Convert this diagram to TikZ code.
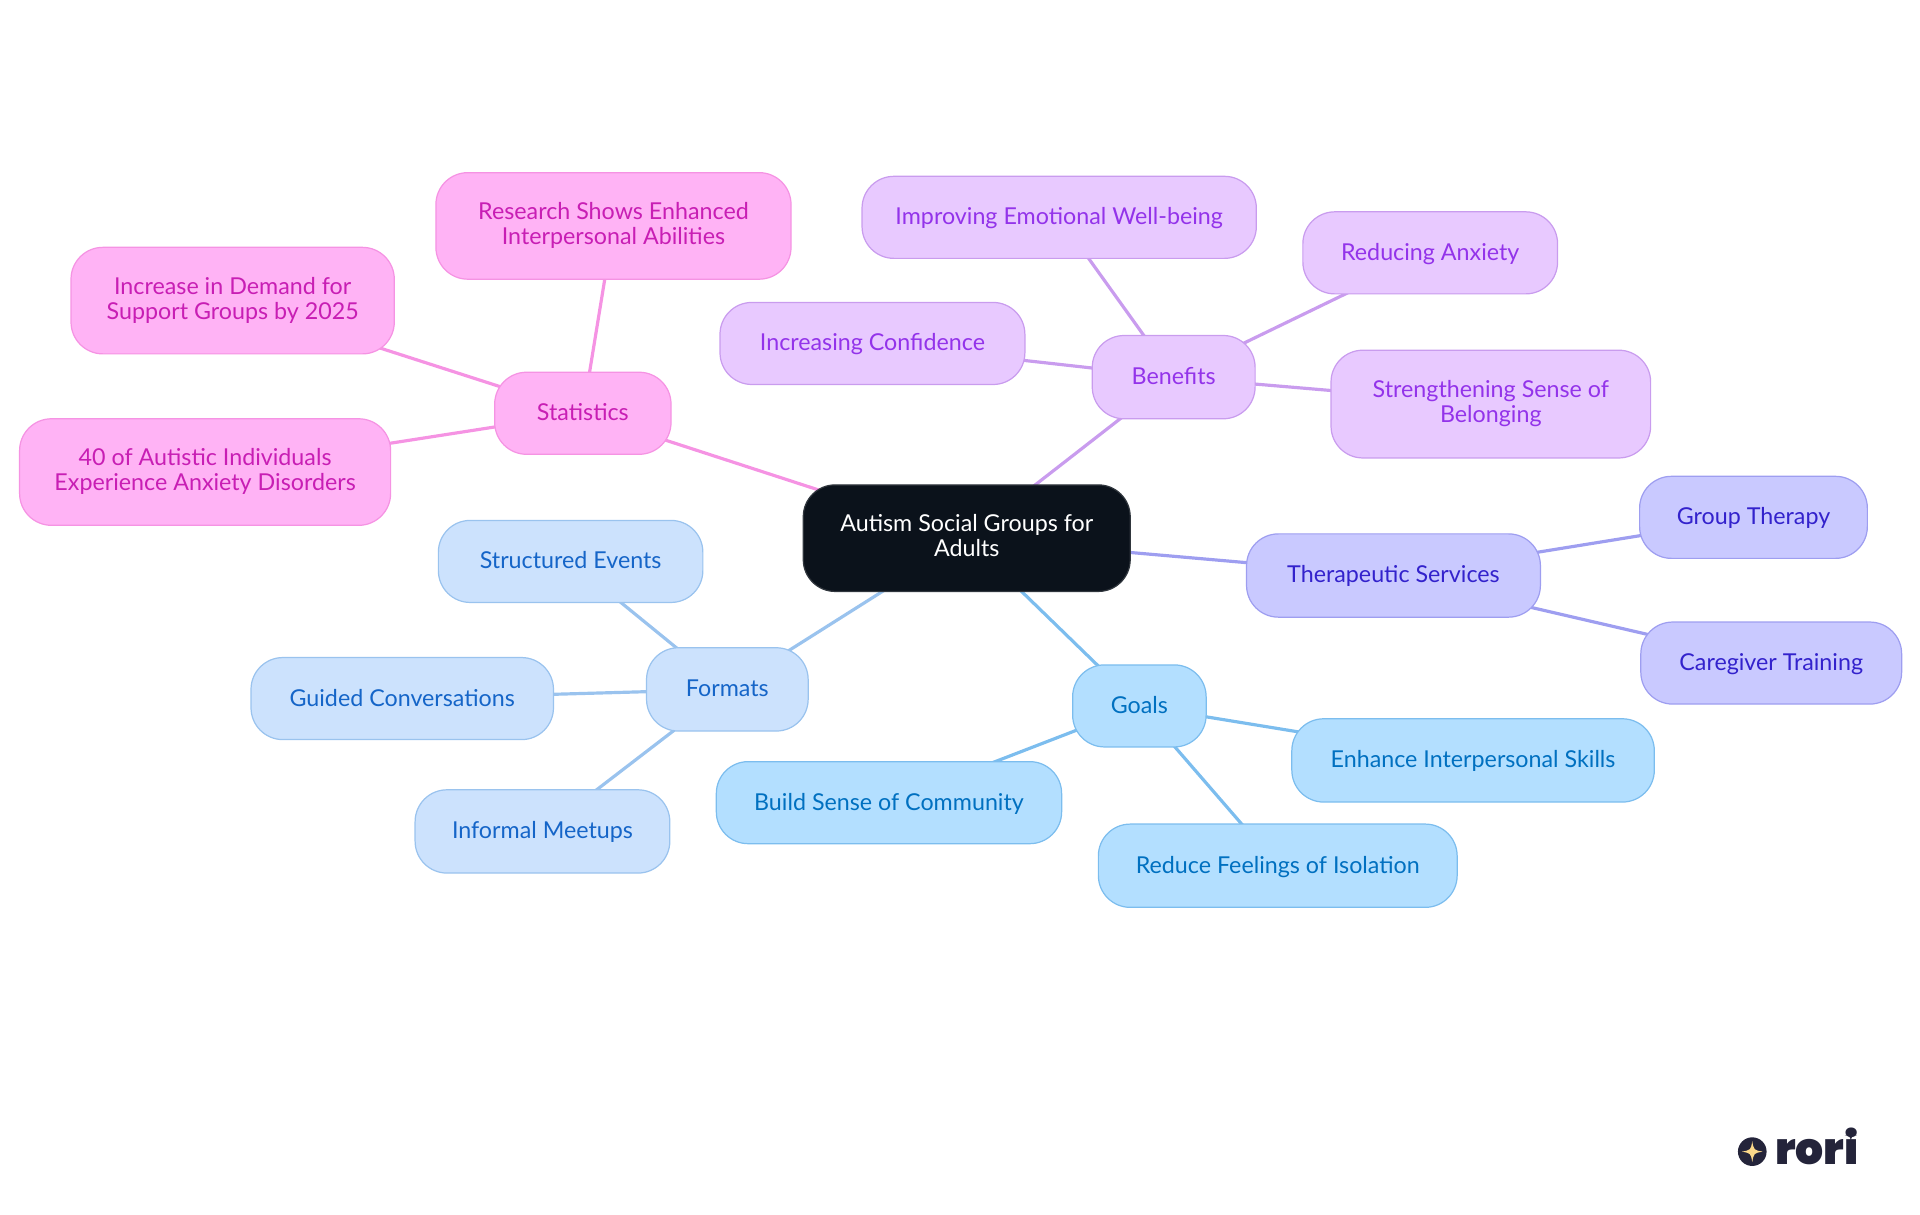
\documentclass[tikz,border=0pt]{standalone}
\usepackage{fontspec}
\setmainfont{Lato}
\newfontfamily\logofont{Poppins}[UprightFont=* Black]
\usetikzlibrary{backgrounds}
\definecolor{rootfill}{HTML}{0B121B}
\definecolor{statsfill}{HTML}{FFB3F5}
\definecolor{statsline}{HTML}{F593E3}
\definecolor{statstext}{HTML}{C81EB4}
\definecolor{benefill}{HTML}{E8C9FF}
\definecolor{beneline}{HTML}{C99CEE}
\definecolor{benetext}{HTML}{9333EA}
\definecolor{therfill}{HTML}{C9C9FF}
\definecolor{therline}{HTML}{9E9EF0}
\definecolor{thertext}{HTML}{3322CC}
\definecolor{goalfill}{HTML}{B3DFFF}
\definecolor{goalline}{HTML}{7CBDEE}
\definecolor{goaltext}{HTML}{0070C0}
\definecolor{formfill}{HTML}{CCE2FD}
\definecolor{formline}{HTML}{9AC3EE}
\definecolor{formtext}{HTML}{1565C8}
\definecolor{logodark}{HTML}{24243A}
\definecolor{logostar}{HTML}{FBD88A}
\newcommand{\boxstrut}{\rule[-4.15pt]{0pt}{20.5pt}}
\tikzset{
	box/.style={rectangle,rounded corners=26pt,line width=1pt,align=center,inner sep=0pt,
		font=\fontsize{19}{20.5}\selectfont,
		execute at begin node=\boxstrut,execute at end node=\boxstrut},
	size/.style 2 args={minimum width=#1pt,minimum height=#2pt},
	rootbox/.style={box,fill=rootfill,draw=rootfill!85!white,text=white},
	statsbox/.style={box,fill=statsfill,draw=statsline,text=statstext},
	benebox/.style={box,fill=benefill,draw=beneline,text=benetext},
	therbox/.style={box,fill=therfill,draw=therline,text=thertext},
	goalbox/.style={box,fill=goalfill,draw=goalline,text=goaltext},
	formbox/.style={box,fill=formfill,draw=formline,text=formtext},
	edge/.style={line width=2.6pt}
}
\newcommand{\logospark}[4]{\fill[#1] (#2,#3-#4) .. controls (#2+0.15*#4,#3-0.15*#4) .. (#2+#4,#3) .. controls (#2+0.15*#4,#3+0.15*#4) .. (#2,#3+#4) .. controls (#2-0.15*#4,#3+0.15*#4) .. (#2-#4,#3) .. controls (#2-0.15*#4,#3-0.15*#4) .. cycle;}
\begin{document}
\begin{tikzpicture}[x=1pt,y=-1pt]
	\useasboundingbox (0,0) rectangle (1568,992.25);
	\node[rootbox,size={267}{87}] (root) at (789.5,439.5) {Autism Social Groups for\\Adults};
	% statistics
	\node[statsbox,size={144}{67}] (stats) at (476,337.5) {Statistics};
	\node[statsbox,size={290}{87}] (research) at (501,184.5) {Research Shows Enhanced\\Interpersonal Abilities};
	\node[statsbox,size={264}{87}] (demand) at (190,245.5) {Increase in Demand for\\Support Groups by 2025};
	\node[statsbox,size={303}{87}] (anxiety) at (167.5,385.5) {40 of Autistic Individuals\\Experience Anxiety Disorders};
	% benefits
	\node[benebox,size={133}{68}] (benefits) at (958.5,308) {Benefits};
	\node[benebox,size={322}{67}] (wellbeing) at (865,177.5) {Improving Emotional Well-being};
	\node[benebox,size={208}{67}] (reducing) at (1168,206.5) {Reducing Anxiety};
	\node[benebox,size={249}{67}] (confidence) at (712.5,280.5) {Increasing Confidence};
	\node[benebox,size={261}{88}] (belonging) at (1217.5,330) {Strengthening Sense of\\Belonging};
	% therapeutic services
	\node[therbox,size={240}{68}] (services) at (1138,470) {Therapeutic Services};
	\node[therbox,size={186}{67}] (therapy) at (1432,422.5) {Group Therapy};
	\node[therbox,size={213}{67}] (caregiver) at (1446.5,541.5) {Caregiver Training};
	% goals
	\node[goalbox,size={109}{67}] (goals) at (930.5,576.5) {Goals};
	\node[goalbox,size={296}{68}] (skills) at (1203,621) {Enhance Interpersonal Skills};
	\node[goalbox,size={293}{68}] (isolation) at (1043.5,707) {Reduce Feelings of Isolation};
	\node[goalbox,size={282}{67}] (community) at (726,655.5) {Build Sense of Community};
	% formats
	\node[formbox,size={132}{68}] (formats) at (594,563) {Formats};
	\node[formbox,size={216}{67}] (events) at (466,458.5) {Structured Events};
	\node[formbox,size={247}{67}] (guided) at (328.5,570.5) {Guided Conversations};
	\node[formbox,size={208}{68}] (meetups) at (443,679) {Informal Meetups};
	\begin{pgfonlayer}{background}
		\draw[edge,statsline] (root.center) -- (stats.center);
		\draw[edge,statsline] (stats.center) -- (research.center);
		\draw[edge,statsline] (stats.center) -- (demand.center);
		\draw[edge,statsline] (stats.center) -- (anxiety.center);
		\draw[edge,beneline] (root.center) -- (benefits.center);
		\draw[edge,beneline] (benefits.center) -- (wellbeing.center);
		\draw[edge,beneline] (benefits.center) -- (reducing.center);
		\draw[edge,beneline] (benefits.center) -- (confidence.center);
		\draw[edge,beneline] (benefits.center) -- (belonging.center);
		\draw[edge,therline] (root.center) -- (services.center);
		\draw[edge,therline] (services.center) -- (therapy.center);
		\draw[edge,therline] (services.center) -- (caregiver.center);
		\draw[edge,goalline] (root.center) -- (goals.center);
		\draw[edge,goalline] (goals.center) -- (skills.center);
		\draw[edge,goalline] (goals.center) -- (isolation.center);
		\draw[edge,goalline] (goals.center) -- (community.center);
		\draw[edge,formline] (root.center) -- (formats.center);
		\draw[edge,formline] (formats.center) -- (events.center);
		\draw[edge,formline] (formats.center) -- (guided.center);
		\draw[edge,formline] (formats.center) -- (meetups.center);
	\end{pgfonlayer}
	% logo
	\fill[logodark] (1431,940.5) circle (11.7pt);
	\logospark{logostar}{1431}{940.5}{8.5}
	\logospark{logodark}{1511.5}{927}{5}
	\node[anchor=base west,inner sep=0pt,text=logodark,font=\logofont\fontsize{36}{36}\selectfont] (logo) at (1449.5,951) {rori};
\end{tikzpicture}
\end{document}
